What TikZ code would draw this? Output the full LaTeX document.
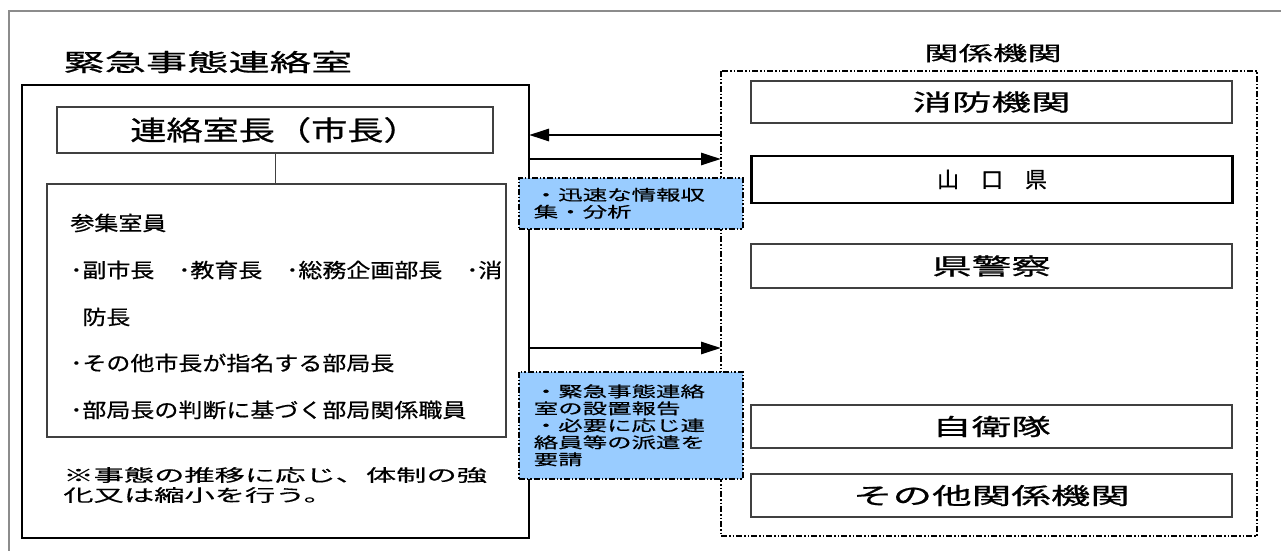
\documentclass[tikz,border=0pt]{standalone}
\usepackage{fontspec}
\usetikzlibrary{arrows.meta}
\newfontfamily\jpN[FakeBold=0.6]{Noto Sans CJK JP}
\newfontfamily\jpA[FakeStretch=1.72,FakeBold=0.8]{Noto Sans CJK JP}
\newfontfamily\jpB[FakeStretch=1.34,FakeBold=0.8]{Noto Sans CJK JP}
\newfontfamily\jpC[FakeStretch=1.20,FakeBold=0.6]{Noto Sans CJK JP}
\newfontfamily\jpD[FakeStretch=1.78,FakeBold=0.6]{Noto Sans CJK JP}
\newfontfamily\jpE[FakeStretch=1.63,FakeBold=0.5]{Noto Sans CJK JP}
\definecolor{boxline}{HTML}{404040}
\definecolor{notefill}{HTML}{99CCFF}
\definecolor{framegray}{HTML}{8C8C8C}
\begin{document}
\begin{tikzpicture}[x=0.5pt,y=-0.5pt,
        unit/.style={draw=boxline, line width=0.6pt, minimum width=240.5pt, inner sep=0pt, font=\jpA\fontsize{11.5}{13}\selectfont},
        memo/.style={draw=black, line width=0.8pt, dash pattern=on 3pt off 1pt on 0.75pt off 1pt on 0.75pt off 1pt, fill=notefill, anchor=north west, align=left, text width=97pt, inner xsep=7.5pt, inner ysep=0pt, font=\jpE\fontsize{7.5}{8.5}\selectfont},
        flow/.style={line width=1.4pt, -{Triangle[length=10pt, width=6pt]}},
        staff/.style={anchor=west, inner sep=0pt, font=\jpC\fontsize{10}{12}\selectfont}]
        \useasboundingbox (0,0) rectangle (1281,551);
        \draw[framegray, line width=0.6pt] (1281,11) -- (9,11) -- (9,551);
        \node[anchor=west, inner sep=0pt, font=\jpA\fontsize{12}{14}\selectfont] (title) at (63,62) {緊急事態連絡室};
        \node[inner sep=0pt, font=\jpA\fontsize{10}{12}\selectfont] (reltitle) at (993,53) {関係機関};
        \draw[line width=1.4pt] (22,85) rectangle (529,538);
        \draw[line width=0.9pt, dash pattern=on 3pt off 1pt on 0.75pt off 1pt on 0.75pt off 1pt] (721,71) rectangle (1257,536);
        \node[draw=boxline, line width=0.6pt, minimum width=218pt, minimum height=23pt, inner sep=0pt, font=\jpB\fontsize{13.5}{15}\selectfont] (chief) at (275,130) {連絡室長（市長）};
        \node[draw=boxline, line width=0.6pt, minimum width=229.5pt, minimum height=126.5pt] (members) at (276.5,310.5) {};
        \draw[boxline, line width=0.5pt] (chief.south) -- (chief.south |- members.north);
        \foreach \y/\dx/\t [count=\i] in {223/70/参集室員, 270/70/･副市長　･教育長　･総務企画部長　･消, 317/82/防長, 363/70/･その他市長が指名する部局長, 410/70/･部局長の判断に基づく部局関係職員}
            \node[staff] (m\i) at (\dx,\y) {\t};
        \node[anchor=west, inner sep=0pt, align=left, font=\jpD\fontsize{8.5}{10}\selectfont] (note) at (63,485) {※事態の推移に応じ、体制の強\\化又は縮小を行う。};
        \foreach \y/\h/\t/\n in {102/21/消防機関/fire, 266/22/県警察/police, 426.5/21.5/自衛隊/sdf, 495.5/21.5/その他関係機関/other}
            \node[unit, minimum height=\h pt] (\n) at (991.5,\y) {\t};
        \node[unit, draw=black, line width=1.1pt, minimum height=23.5pt, font=\jpN\fontsize{11}{13}\selectfont] (pref) at (992,179.5) {山　口　県};
        \coordinate (in1) at (721,135);
        \coordinate (out1) at (529,135);
        \coordinate (out2) at (529,159);
        \coordinate (in2) at (721,159);
        \coordinate (out3) at (529,348);
        \coordinate (in3) at (721,348);
        \draw[flow] (in1) -- (out1);
        \draw[flow] (out2) -- (in2);
        \draw[flow] (out3) -- (in3);
        \node[memo, minimum width=112pt, minimum height=25.5pt] (memo1) at (518,177) {・迅速な情報収\\集・分析};
        \node[memo, minimum width=112pt, minimum height=53.5pt] (memo2) at (518,371) {・緊急事態連絡\\室の設置報告\\・必要に応じ連\\絡員等の派遣を\\要請};
    \end{tikzpicture}
\end{document}
